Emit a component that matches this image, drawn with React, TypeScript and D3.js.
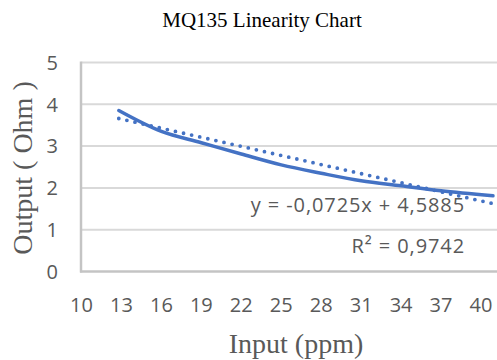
import React, { useEffect, useRef } from "react";
import * as d3 from "d3";

// values
const inputPpm = [12.8, 16, 19, 22, 25, 28, 31, 34, 37, 40.9];
const outputOhm = [3.85, 3.35, 3.08, 2.81, 2.55, 2.35, 2.17, 2.05, 1.93, 1.81];
const xTicks = [10, 13, 16, 19, 22, 25, 28, 31, 34, 37, 40];
const yTicks = [0, 1, 2, 3, 4, 5];
const trendSlope = -0.0725;
const trendIntercept = 4.5885;
const equationLabel = "y = -0,0725x + 4,5885";
const r2Label = "R² = 0,9742";

const width = 497;
const height = 360;

export default function App() {
  const ref = useRef<SVGSVGElement>(null);

  useEffect(() => {
    const svg = d3.select(ref.current);
    svg.selectAll("*").remove();

    const margin = { top: 62.5, left: 81.5, bottom: 271.5 };
    const x = d3.scaleLinear().domain([10, 40]).range([margin.left, 481]);
    const y = d3.scaleLinear().domain([0, 5]).range([margin.bottom, margin.top]);
    const blue = "#4472C4";
    const grey = "#595959";
    const sans = "'Open Sans', sans-serif";
    const serif = "'Liberation Serif', 'Times New Roman', serif";

    // title
    svg.append("text")
      .attr("x", 262)
      .attr("y", 27)
      .attr("text-anchor", "middle")
      .attr("font-family", serif)
      .attr("font-size", 21)
      .attr("fill", "#000")
      .text("MQ135 Linearity Chart");

    // gridlines
    svg.append("g")
      .selectAll("line")
      .data(yTicks.filter(d => d > 0))
      .join("line")
      .attr("x1", margin.left)
      .attr("x2", width)
      .attr("y1", d => y(d))
      .attr("y2", d => y(d))
      .attr("stroke", "#d9d9d9")
      .attr("stroke-width", 2);

    // axis lines
    svg.append("line")
      .attr("x1", margin.left - 0.5).attr("x2", margin.left - 0.5)
      .attr("y1", y(5) - 1).attr("y2", y(0) + 1)
      .attr("stroke", "#c4c4c4").attr("stroke-width", 2.5);
    svg.append("line")
      .attr("x1", margin.left - 1.5).attr("x2", width)
      .attr("y1", y(0)).attr("y2", y(0))
      .attr("stroke", "#c4c4c4").attr("stroke-width", 2.5);

    // tick labels
    svg.append("g")
      .selectAll("text")
      .data(yTicks)
      .join("text")
      .attr("x", 58)
      .attr("y", d => y(d))
      .attr("dy", "0.36em")
      .attr("text-anchor", "end")
      .attr("font-family", sans)
      .attr("font-size", 20)
      .attr("fill", grey)
      .text(d => d);

    svg.append("g")
      .selectAll("text")
      .data(xTicks)
      .join("text")
      .attr("x", d => x(d))
      .attr("y", 312)
      .attr("text-anchor", "middle")
      .attr("font-family", sans)
      .attr("font-size", 20)
      .attr("fill", grey)
      .text(d => d);

    // axis titles
    svg.append("text")
      .attr("x", 296)
      .attr("y", 353)
      .attr("text-anchor", "middle")
      .attr("font-family", serif)
      .attr("font-size", 28)
      .attr("fill", grey)
      .text("Input (ppm)");
    svg.append("text")
      .attr("transform", `translate(32,168) rotate(-90)`)
      .attr("text-anchor", "middle")
      .attr("font-family", serif)
      .attr("font-size", 28)
      .attr("fill", grey)
      .text("Output ( Ohm )");

    // measured series
    const points = inputPpm.map((v, i) => [v, outputOhm[i]] as [number, number]);
    const line = d3.line<[number, number]>()
      .x(d => x(d[0]))
      .y(d => y(d[1]))
      .curve(d3.curveCatmullRom.alpha(0.5));
    svg.append("path")
      .datum(points)
      .attr("d", line)
      .attr("fill", "none")
      .attr("stroke", blue)
      .attr("stroke-width", 3.5)
      .attr("stroke-linecap", "round");

    // linear trendline
    const xExtent = d3.extent(inputPpm) as [number, number];
    const trend = xExtent.map(v => [v, trendSlope * v + trendIntercept] as [number, number]);
    svg.append("path")
      .datum(trend)
      .attr("d", d3.line<[number, number]>().x(d => x(d[0])).y(d => y(d[1])))
      .attr("fill", "none")
      .attr("stroke", blue)
      .attr("stroke-width", 3.8)
      .attr("stroke-linecap", "round")
      .attr("stroke-dasharray", "0 8.3");

    // regression labels
    svg.append("text")
      .attr("x", 465)
      .attr("y", 212)
      .attr("text-anchor", "end")
      .attr("font-family", sans)
      .attr("font-size", 20)
      .attr("letter-spacing", 0.9)
      .attr("fill", grey)
      .text(equationLabel);
    svg.append("text")
      .attr("x", 465)
      .attr("y", 253)
      .attr("text-anchor", "end")
      .attr("font-family", sans)
      .attr("font-size", 20)
      .attr("letter-spacing", 0.9)
      .attr("fill", grey)
      .text(r2Label);
  }, []);

  return (
    <div style={{ position: "absolute", left: 0, top: 0 }}>
      <svg ref={ref} width={width} height={height} style={{ display: "block", background: "#fff" }} />
    </div>
  );
}
